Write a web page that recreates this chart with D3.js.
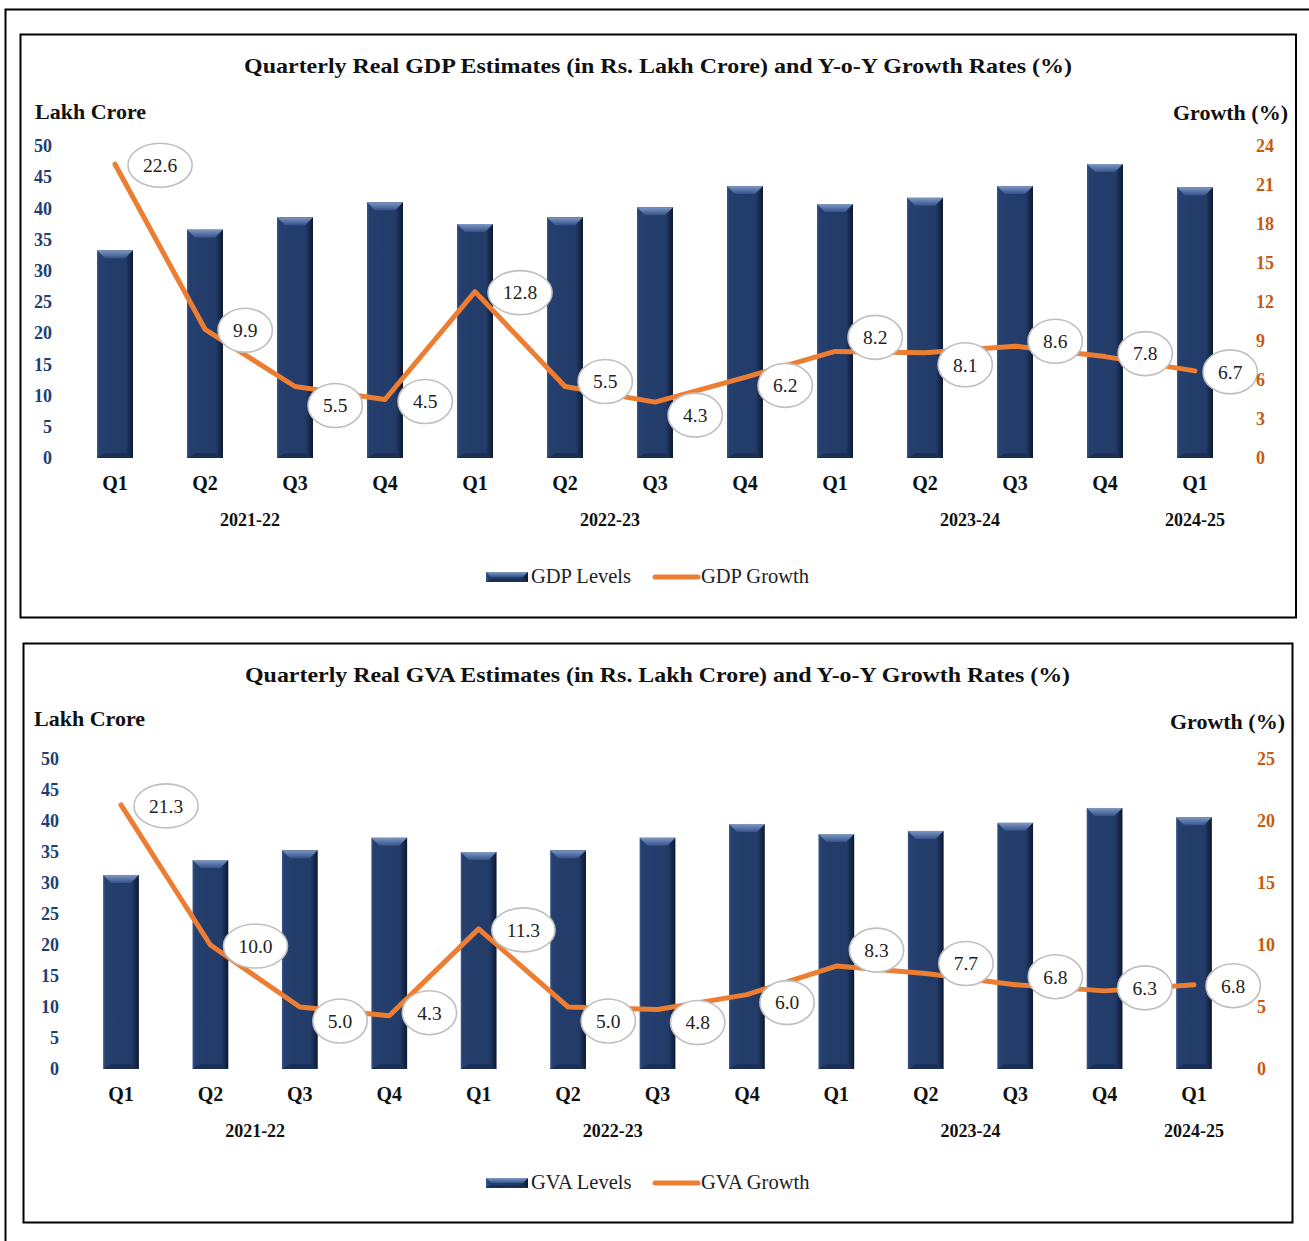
<!DOCTYPE html>
<html lang="en">
<head>
    <meta charset="UTF-8">
    <title>Quarterly Real GDP and GVA Estimates</title>
    <style>
body {
    margin: 0;
    background-color: white;
}

svg {
    display: block;
    font-family: "Liberation Serif", "DejaVu Serif", serif;
}

.frame {
    fill: none;
    stroke: #000;
    stroke-width: 2px;
}

.title {
    font-size: 22px;
    font-weight: bold;
    fill: #111;
}

.axis-title {
    font-size: 22px;
    font-weight: bold;
    fill: #111;
}

.tick-left text {
    font-size: 18px;
    font-weight: bold;
    fill: #1f3f73;
}

.tick-right text {
    font-size: 18px;
    font-weight: bold;
    fill: #c55a11;
}

.quarter, .year {
    font-weight: bold;
    fill: #111;
}

.growth-line {
    fill: none;
    stroke: #ed7d31;
    stroke-width: 5px;
    stroke-linejoin: round;
    stroke-linecap: round;
}

.data-label ellipse {
    fill: #fff;
    stroke: #bfbfbf;
    stroke-width: 1.6px;
}

.data-label text {
    font-size: 19.5px;
    fill: #222;
}

.legend text {
    font-size: 20.5px;
    fill: #222;
}
    </style>
</head>
<body>
    <svg id="chart" width="1309" height="1241"></svg>
    <script src="https://d3js.org/d3.v7.min.js"></script>
    <script>
// Daten
const quarters = ["Q1", "Q2", "Q3", "Q4", "Q1", "Q2", "Q3", "Q4", "Q1", "Q2", "Q3", "Q4", "Q1"];
const yearLabels = ["2021-22", "2022-23", "2023-24", "2024-25"];
const yearSpans = [4, 4, 4, 1];

const gdpLevels = [33.3, 36.6, 38.6, 41.0, 37.5, 38.6, 40.2, 43.6, 40.7, 41.7, 43.6, 47.1, 43.4];
const gdpGrowth = [22.6, 9.9, 5.5, 4.5, 12.8, 5.5, 4.3, 6.2, 8.2, 8.1, 8.6, 7.8, 6.7];

const gvaLevels = [31.3, 33.7, 35.3, 37.3, 35.0, 35.3, 37.3, 39.5, 37.9, 38.4, 39.7, 42.1, 40.6];
const gvaGrowth = [21.3, 10.0, 5.0, 4.3, 11.3, 5.0, 4.8, 6.0, 8.3, 7.7, 6.8, 6.3, 6.8];

const levelTicks = [0, 5, 10, 15, 20, 25, 30, 35, 40, 45, 50];
const gdpGrowthTicks = [0, 3, 6, 9, 12, 15, 18, 21, 24];
const gvaGrowthTicks = [0, 5, 10, 15, 20, 25];

// Layout der beiden Diagramme
const panels = [
    {
        title: "Quarterly Real GDP Estimates (in Rs. Lakh Crore) and Y-o-Y Growth Rates (%)",
        levels: gdpLevels, growth: gdpGrowth, growthTicks: gdpGrowthTicks,
        legend: ["GDP Levels", "GDP Growth"],
        box: [20.5, 34.5, 1275.5, 583], titleY: 73, titleX: 658, titleLen: 828,
        xRange: [70, 1240], yRange: [458, 146],
        leftX: 52, rightX: 1256, leftTitle: [35, 119], rightTitle: [1288, 120],
        quarterY: 490, yearY: 526, legendY: 577,
        labelDx: [0, 0, 0, 0, 0, 0, 0, 0, 0, 0, 0, 0, -5],
        labelDy: [1, 1, 19, 2, 1, -5, 13, 8, -14, 12, -5, -3, 1]
    },
    {
        title: "Quarterly Real GVA Estimates (in Rs. Lakh Crore) and Y-o-Y Growth Rates (%)",
        levels: gvaLevels, growth: gvaGrowth, growthTicks: gvaGrowthTicks,
        legend: ["GVA Levels", "GVA Growth"],
        box: [23.5, 643.5, 1269, 579], titleY: 682, titleX: 657.5, titleLen: 825,
        xRange: [76.3, 1238.7], yRange: [1069, 759],
        leftX: 59, rightX: 1257, leftTitle: [34, 726], rightTitle: [1285, 729],
        quarterY: 1101, yearY: 1137, legendY: 1183,
        labelDx: [0, 0, 0, 0, 0, 0, 0, 0, 0, 0, 0, 0, -1],
        labelDy: [1, 1, 14, -3, 1, 14, 13, 8, -16, -10, -8, -3, 1]
    }
];

const svg = d3.select("#chart");

// Farbverläufe für die Balken
const defs = svg.append("defs");
const barGrad = defs.append("linearGradient").attr("id", "barGrad");
[["0%", "#3a5688"], ["7%", "#253f6e"], ["80%", "#223b68"], ["100%", "#0c1830"]].forEach(s =>
    barGrad.append("stop").attr("offset", s[0]).attr("stop-color", s[1]));
const bevelGrad = defs.append("linearGradient").attr("id", "bevelGrad")
    .attr("x1", 0).attr("y1", 0).attr("x2", 0).attr("y2", 1);
[["0%", "#7f98c4"], ["100%", "#35528a"]].forEach(s =>
    bevelGrad.append("stop").attr("offset", s[0]).attr("stop-color", s[1]));

// äußerer Rahmen
svg.append("path")
    .attr("class", "frame")
    .attr("d", "M5.5,1241V9.5H1309");

function drawBar(g, x, y, w, h) {
    const b = Math.min(8, h / 2);
    g.append("rect")
        .attr("x", x).attr("y", y).attr("width", w).attr("height", h)
        .attr("fill", "url(#barGrad)");
    g.append("path")
        .attr("d", `M${x},${y}H${x + w}L${x + w - b},${y + b}H${x + b}Z`)
        .attr("fill", "url(#bevelGrad)");
    g.append("path")
        .attr("d", `M${x},${y + h}H${x + w}L${x + w - b},${y + h - b * 0.6}H${x + b}Z`)
        .attr("fill", "#1a2f55");
}

panels.forEach(p => {
    const g = svg.append("g");

    g.append("rect")
        .attr("class", "frame")
        .attr("x", p.box[0]).attr("y", p.box[1])
        .attr("width", p.box[2]).attr("height", p.box[3]);

    g.append("text")
        .attr("class", "title")
        .attr("x", p.titleX).attr("y", p.titleY)
        .attr("text-anchor", "middle")
        .attr("textLength", p.titleLen)
        .attr("lengthAdjust", "spacingAndGlyphs")
        .text(p.title);

    const x = d3.scaleBand()
        .domain(d3.range(quarters.length))
        .range(p.xRange)
        .paddingInner(0.6)
        .paddingOuter(0.3);

    const yLevel = d3.scaleLinear().domain([0, 50]).range(p.yRange);
    const yGrowth = d3.scaleLinear()
        .domain([0, d3.max(p.growthTicks)])
        .range(p.yRange);

    g.append("text")
        .attr("class", "axis-title")
        .attr("x", p.leftTitle[0]).attr("y", p.leftTitle[1])
        .text("Lakh Crore");
    g.append("text")
        .attr("class", "axis-title")
        .attr("x", p.rightTitle[0]).attr("y", p.rightTitle[1])
        .attr("text-anchor", "end")
        .text("Growth (%)");

    // Balken
    const bars = g.append("g");
    p.levels.forEach((v, i) => {
        drawBar(bars, x(i), yLevel(v), x.bandwidth(), yLevel(0) - yLevel(v));
    });

    // Quartale und Jahre
    const cx = i => x(i) + x.bandwidth() / 2;
    g.append("g").selectAll("text")
        .data(quarters)
        .enter().append("text")
        .attr("class", "quarter")
        .attr("x", (d, i) => cx(i))
        .attr("y", p.quarterY)
        .attr("text-anchor", "middle")
        .attr("font-size", 20)
        .text(d => d);

    let start = 0;
    yearLabels.forEach((label, k) => {
        const end = start + yearSpans[k] - 1;
        g.append("text")
            .attr("class", "year")
            .attr("x", (cx(start) + cx(end)) / 2)
            .attr("y", p.yearY)
            .attr("text-anchor", "middle")
            .attr("font-size", 18)
            .text(label);
        start = end + 1;
    });

    // Wachstumslinie
    g.append("path")
        .datum(p.growth)
        .attr("class", "growth-line")
        .attr("d", d3.line().x((d, i) => cx(i)).y(d => yGrowth(d)));

    // Datenbeschriftungen
    const labels = g.append("g").selectAll("g")
        .data(p.growth)
        .enter().append("g")
        .attr("class", "data-label");
    labels.each(function(d, i) {
        const lg = d3.select(this);
        const t = lg.append("text")
            .attr("text-anchor", "middle")
            .attr("dy", "0.35em")
            .text(d.toFixed(1));
        const w = t.node().getComputedTextLength();
        const rx = w / 2 + 15;
        lg.insert("ellipse", "text")
            .attr("rx", rx).attr("ry", 22);
        lg.attr("transform", `translate(${cx(i) + rx + 13 + p.labelDx[i]},${yGrowth(d) + p.labelDy[i]})`);
    });

    // Achsen (über den Beschriftungen)
    const leftAxis = g.append("g")
        .attr("class", "tick-left")
        .attr("transform", `translate(${p.leftX},0)`)
        .call(d3.axisLeft(yLevel).tickValues(levelTicks).tickSize(0).tickPadding(0));
    const rightAxis = g.append("g")
        .attr("class", "tick-right")
        .attr("transform", `translate(${p.rightX},0)`)
        .call(d3.axisRight(yGrowth).tickValues(p.growthTicks).tickSize(0).tickPadding(0));
    [leftAxis, rightAxis].forEach(a => {
        a.select(".domain").remove();
        a.attr("font-family", null).attr("font-size", null);
    });

    // Legende
    const lg = g.append("g").attr("class", "legend");
    drawBar(lg, 486, p.legendY - 5, 42, 10);
    lg.append("text")
        .attr("x", 531).attr("y", p.legendY + 6)
        .text(p.legend[0]);
    lg.append("line")
        .attr("x1", 655).attr("x2", 698)
        .attr("y1", p.legendY).attr("y2", p.legendY)
        .attr("stroke", "#ed7d31")
        .attr("stroke-width", 5)
        .attr("stroke-linecap", "round");
    lg.append("text")
        .attr("x", 701).attr("y", p.legendY + 6)
        .text(p.legend[1]);
});
    </script>
</body>
</html>
